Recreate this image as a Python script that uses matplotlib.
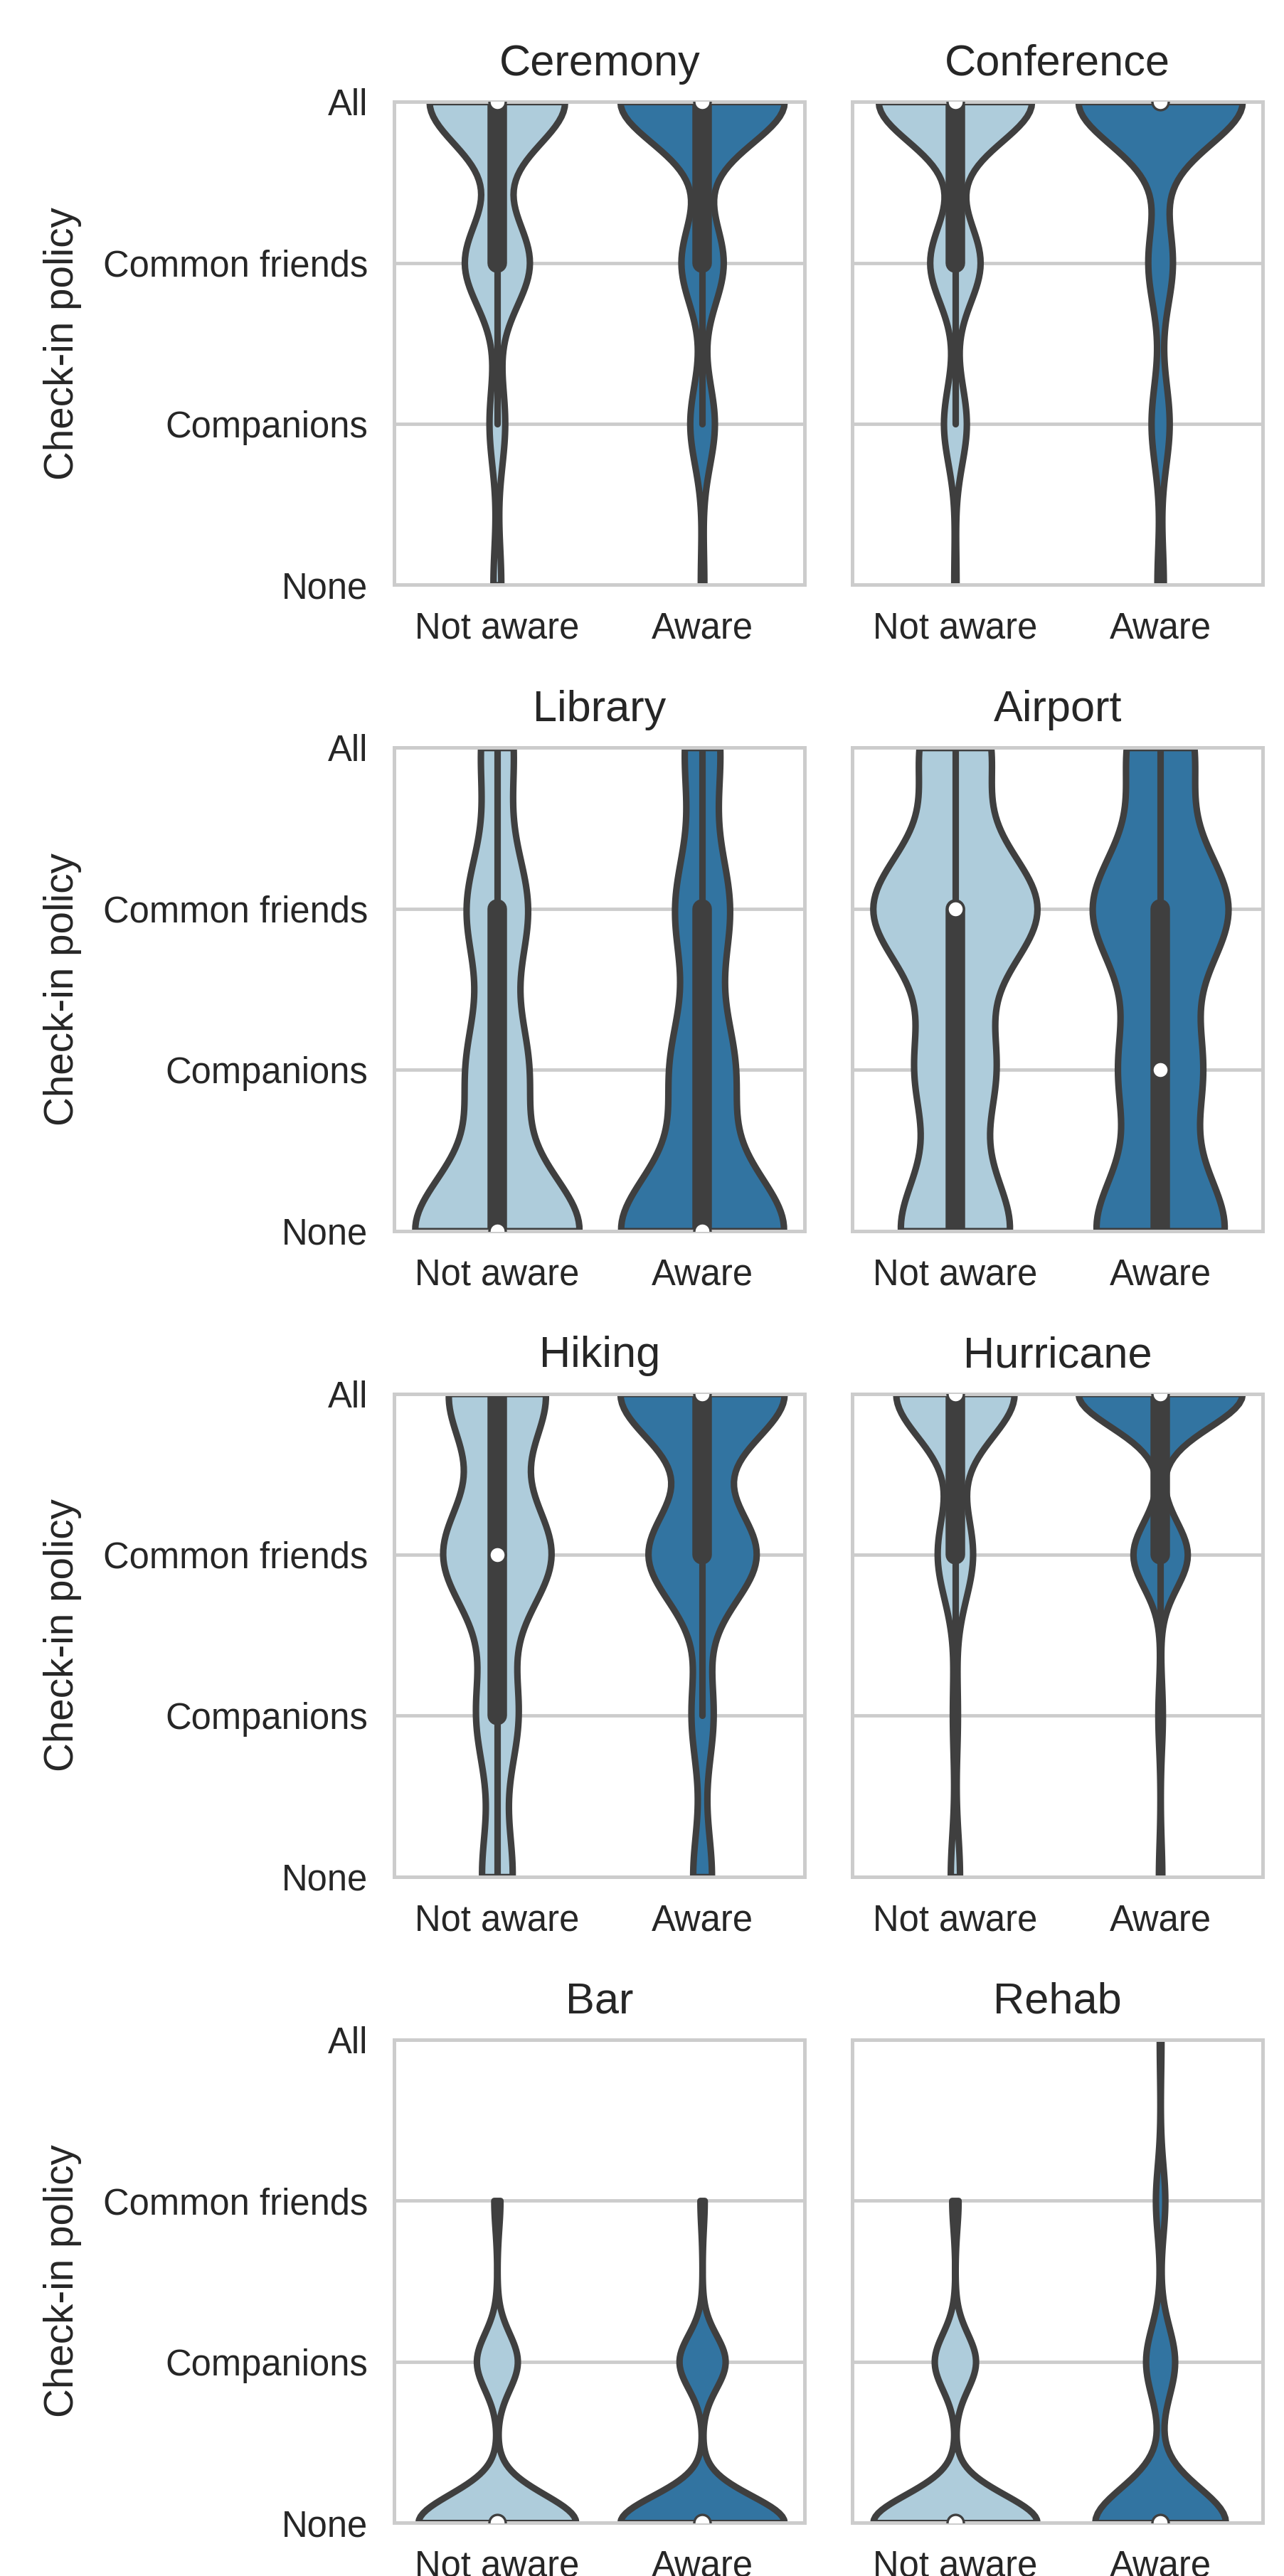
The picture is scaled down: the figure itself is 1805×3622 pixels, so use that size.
import colorsys

import numpy as np
import matplotlib
matplotlib.use("Agg")
import matplotlib.pyplot as plt


SCENARIOS = ["Ceremony", "Conference", "Library", "Airport",
             "Hiking", "Hurricane", "Bar", "Rehab"]
POLICY_LEVELS = ["None", "Companions", "Common friends", "All"]
GROUPS = ["Not aware", "Aware"]

# number of answers per policy level: None, Companions, Common friends, All
NOT_AWARE_COUNTS = [
    [7, 14, 58, 121],    # Ceremony
    [2, 20, 44, 134],    # Conference
    [104, 38, 38, 20],   # Library
    [52, 37, 78, 33],    # Airport
    [22, 30, 78, 70],    # Hiking
    [11, 6, 42, 141],    # Hurricane
    [154, 40, 6, 0],     # Bar
    [155, 39, 6, 0],     # Rehab
]
AWARE_COUNTS = [
    [3, 21, 36, 140],
    [6, 17, 23, 154],
    [104, 40, 34, 22],
    [63, 39, 66, 32],
    [12, 14, 69, 105],
    [3, 4, 48, 145],
    [153, 43, 4, 0],
    [153, 34, 11, 2],
]

LW = 2.2
TEXT = "#262626"


def desaturate(hex_color, prop):
    r, g, b = matplotlib.colors.to_rgb(hex_color)
    h, l, s = colorsys.rgb_to_hls(r, g, b)
    return colorsys.hls_to_rgb(h, l, s * prop)


COLORS = [desaturate("#a6cee3", 0.75), desaturate("#1f78b4", 0.75)]
lum = min(colorsys.rgb_to_hls(*c)[1] for c in COLORS) * 0.6
GRAY = (lum, lum, lum)


def kde(values, grid):
    n = len(values)
    bw = values.std(ddof=1) * n ** (-1 / 5)
    z = (grid[:, None] - values[None, :]) / bw
    return np.exp(-0.5 * z ** 2).sum(axis=1) / (n * bw * np.sqrt(2 * np.pi))


def draw_panel(ax, counts_per_group):
    violins = []
    for counts in counts_per_group:
        obs = np.repeat(np.arange(len(POLICY_LEVELS)), counts).astype(float)
        support = np.linspace(obs.min(), obs.max(), 100)
        violins.append((obs, support, kde(obs, support)))

    max_density = max(d.max() for _, _, d in violins)

    for pos, (obs, support, density) in enumerate(violins):
        half = density / max_density * 0.4
        ax.fill_betweenx(support, pos - half, pos + half,
                         facecolor=COLORS[pos], edgecolor=GRAY, linewidth=LW)

        q25, q50, q75 = np.percentile(obs, [25, 50, 75])
        lim = 1.5 * (q75 - q25)
        lo = obs[obs >= q25 - lim].min()
        hi = obs[obs <= q75 + lim].max()
        ax.plot([pos, pos], [lo, hi], color=GRAY, linewidth=LW,
                solid_capstyle="round")
        ax.plot([pos, pos], [q25, q75], color=GRAY, linewidth=LW * 3,
                solid_capstyle="round")
        ax.scatter(pos, q50, s=(LW * 2.5) ** 2, color="white",
                   edgecolor=GRAY, linewidth=0.8, zorder=3)


plt.rcParams["font.family"] = ["Liberation Sans", "DejaVu Sans"]
plt.rcParams["text.color"] = TEXT
plt.rcParams["axes.labelcolor"] = TEXT
plt.rcParams["xtick.color"] = TEXT
plt.rcParams["ytick.color"] = TEXT

fig, axes = plt.subplots(4, 2, figsize=(1806 / 300, 3622 / 300), dpi=300,
                         sharey=True)
fig.subplots_adjust(left=0.307, right=0.983, top=0.9605, bottom=0.0207,
                    wspace=0.116, hspace=0.337)

for i, ax in enumerate(axes.flat):
    draw_panel(ax, [NOT_AWARE_COUNTS[i], AWARE_COUNTS[i]])

    ax.set_xlim(-0.5, 1.5)
    ax.set_ylim(0, 3)
    ax.set_xticks([0, 1])
    ax.set_xticklabels(GROUPS)
    ax.set_yticks(range(len(POLICY_LEVELS)))
    ax.set_yticklabels(POLICY_LEVELS)
    ax.tick_params(length=0, pad=9, labelsize=12.2)
    ax.set_axisbelow(True)
    ax.grid(axis="y", color="#cccccc", linewidth=1.15)
    ax.grid(axis="x", visible=False)
    for spine in ax.spines.values():
        spine.set_color("#cccccc")
        spine.set_linewidth(1.2)
    ax.set_title(SCENARIOS[i], fontsize=14.7, pad=9, color=TEXT)

    if i % 2 == 0:
        ax.set_ylabel("Check-in policy", fontsize=13.6, labelpad=7)
    else:
        ax.tick_params(labelleft=False)

fig.savefig("out.png", dpi=300)
